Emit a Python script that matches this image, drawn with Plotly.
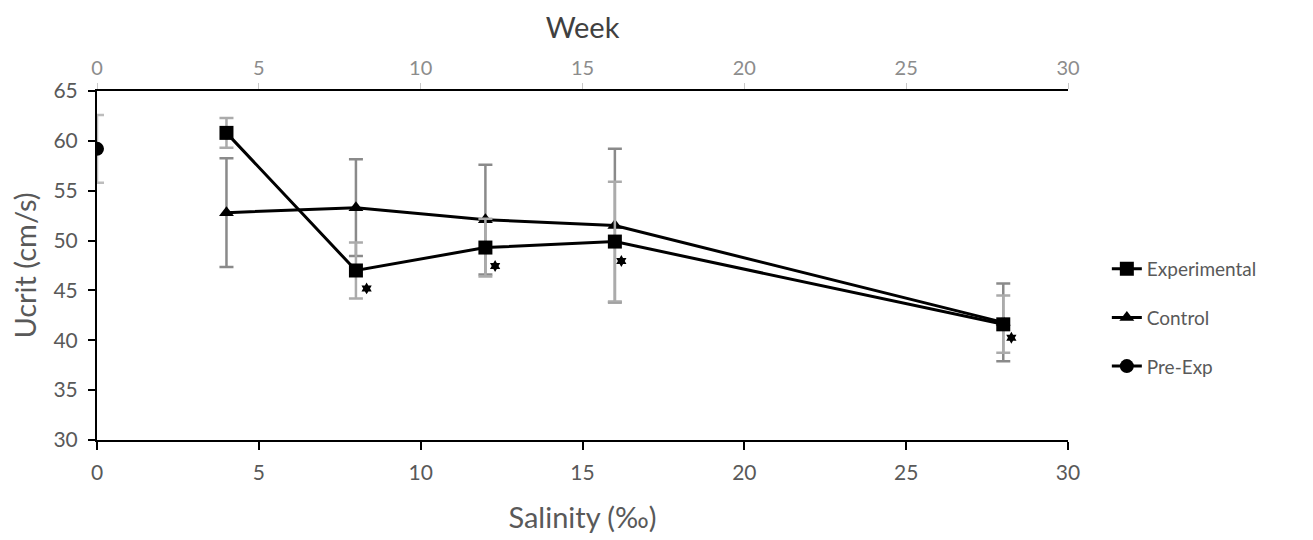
import plotly.graph_objects as go

# Data
exp_x = [4, 8, 12, 16, 28]
exp_y = [60.8, 47.0, 49.3, 49.9, 41.6]
exp_err_plus = [1.5, 2.8, 2.9, 6.0, 2.9]
exp_err_minus = [1.5, 2.8, 2.9, 6.0, 2.85]

ctl_x = [4, 8, 12, 16, 28]
ctl_y = [52.8, 53.3, 52.1, 51.5, 41.8]
ctl_err = [5.45, 4.85, 5.5, 7.7, 3.9]

pre_x = [0]
pre_y = [59.2]
pre_err = [3.4]

star_x = [8.33, 12.3, 16.2, 28.25]
star_y = [45.2, 47.45, 47.95, 40.25]

x_ticks = [0, 5, 10, 15, 20, 25, 30]
y_ticks = [30, 35, 40, 45, 50, 55, 60, 65]

FONT = "Lato"
GREY = "#595959"

fig = go.Figure()

fig.add_trace(go.Scatter(
    x=ctl_x, y=ctl_y, name="Control", mode="lines+markers",
    line=dict(color="black", width=3),
    marker=dict(symbol="triangle-up", size=13, color="black"),
    error_y=dict(type="data", array=ctl_err, color="#8a8a8a", thickness=2.5, width=7),
    legendrank=2, legendgroup="c",
))
fig.add_trace(go.Scatter(
    x=exp_x, y=exp_y, name="Experimental", mode="lines+markers",
    line=dict(color="black", width=3),
    marker=dict(symbol="square", size=14, color="black"),
    error_y=dict(type="data", array=exp_err_plus, arrayminus=exp_err_minus,
                 color="#ababab", thickness=2.5, width=7),
    legendrank=1, legendgroup="e",
))
fig.add_trace(go.Scatter(
    x=pre_x, y=pre_y, name="Pre-Exp", mode="lines+markers",
    line=dict(color="black", width=3),
    marker=dict(symbol="circle", size=14, color="black"),
    error_y=dict(type="data", array=pre_err, color="#bdbdbd", thickness=2.5, width=7),
    legendrank=3, legendgroup="p",
))
fig.add_trace(go.Scatter(
    x=star_x, y=star_y, mode="markers", showlegend=False, xaxis="x2",
    marker=dict(symbol="hexagram", size=9, color="black"),
))

fig.update_layout(
    width=1313, height=540,
    margin=dict(l=97, r=245, t=91, b=100),
    paper_bgcolor="white", plot_bgcolor="white",
    font=dict(family=FONT, color=GREY, size=19),
    showlegend=True,
    legend=dict(x=1.04, y=0.35, xanchor="left", yanchor="middle",
                font=dict(family=FONT, size=19, color=GREY),
                tracegroupgap=21, bgcolor="rgba(0,0,0,0)"),
    xaxis=dict(range=[0, 30], tickvals=x_ticks, showline=True, linecolor="black",
               linewidth=2, ticks="outside", ticklen=8, tickcolor="black", tickwidth=1.5,
               ticklabelstandoff=5,
               showgrid=False, zeroline=False, mirror=False,
               tickfont=dict(size=21, color=GREY),
               title=dict(text="Salinity (‰)", font=dict(size=29, color=GREY), standoff=24)),
    xaxis2=dict(range=[0, 30], tickvals=x_ticks, overlaying="x", side="top",
                showline=True, linecolor="black", linewidth=2, ticks="outside",
                ticklen=6, tickcolor="#c8c8c8", tickwidth=1, showgrid=False, zeroline=False,
                tickfont=dict(size=20, color="#8c8c8c"),
                title=dict(text="Week", font=dict(size=29, color="#404040"), standoff=8)),
    yaxis=dict(range=[30, 65], tickvals=y_ticks, showline=True, linecolor="black",
               linewidth=2, ticks="outside", ticklen=7, tickcolor="black", tickwidth=1.5,
               ticklabelstandoff=6,
               showgrid=False, zeroline=False,
               tickfont=dict(size=21, color=GREY),
               title=dict(text="Ucrit (cm/s)", font=dict(size=29, color=GREY), standoff=8)),
)

fig.write_html("out.html")
